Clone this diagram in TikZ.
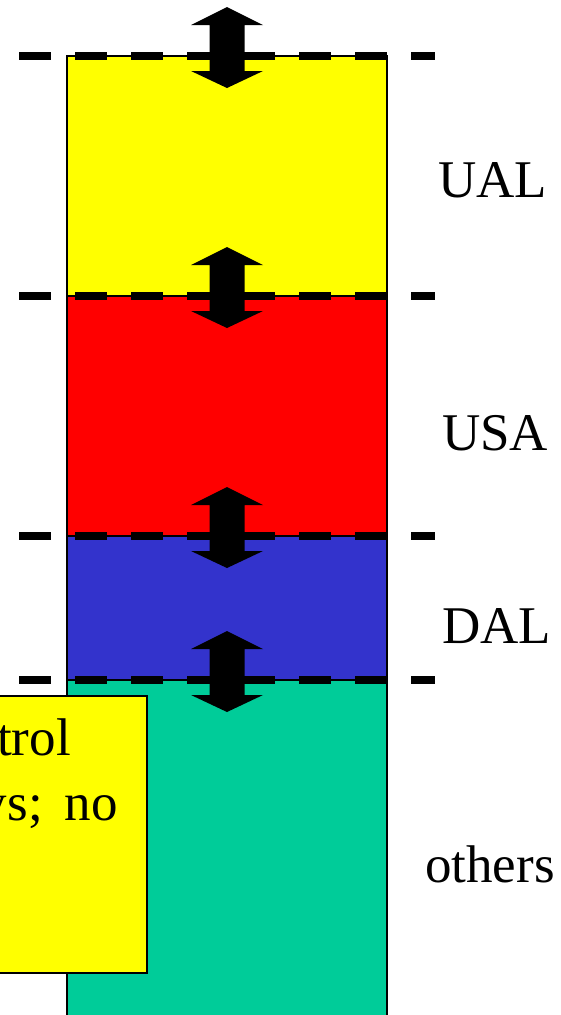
\documentclass[tikz,border=0pt]{standalone}
\usepackage{fontspec}
\setmainfont{Liberation Serif}
\definecolor{bandyellow}{HTML}{FFFF00}
\definecolor{bandred}{HTML}{FF0000}
\definecolor{bandblue}{HTML}{3333CC}
\definecolor{bandgreen}{HTML}{00CC99}
\begin{document}
\begin{tikzpicture}[x=1pt,y=-1pt,
  band/.style={draw=black,line width=1.5pt},
  divider/.style={draw=black,line width=8pt,dash pattern=on 32pt off 24pt},
  dblarrow/.style={fill=black},
  lbl/.style={inner sep=0pt,font=\fontsize{53}{63}\selectfont},
  notebox/.style={fill=bandyellow,draw=black,line width=1.5pt}]
\useasboundingbox (0,0) rectangle (560,1015);
\clip (0,0) rectangle (560,1015);
% bands
\path[band,fill=bandyellow] (67,56) rectangle (387,296);
\path[band,fill=bandred] (67,296) rectangle (387,536);
\path[band,fill=bandblue] (67,536) rectangle (387,680);
\path[band,fill=bandgreen] (67,680) rectangle (387,1030);
% dashed dividers
\foreach \L in {56,296,536,680} {
  \path[divider] (19,\L) -- (435,\L);
}
% double arrows
\foreach \L in {56,296,536,680} {
  \fill[dblarrow] (227,\L-49) -- (263,\L-31) -- (244.5,\L-31) -- (244.5,\L+15)
    -- (263,\L+15) -- (227,\L+32) -- (191,\L+15) -- (209.5,\L+15)
    -- (209.5,\L-31) -- (191,\L-31) -- cycle;
}
% labels
\node[lbl,anchor=base west] (ual) at (438,197) {UAL};
\node[lbl,anchor=base west] (usa) at (442,450) {USA};
\node[lbl,anchor=base west] (dal) at (442,643) {DAL};
\node[lbl,anchor=base west] (oth) at (425,882) {others};
% note box
\path[notebox] (-5,696) rectangle (147,973);
\node[lbl,anchor=base east] (n1) at (71,755) {trol};
\node[lbl,anchor=base east] (n2) at (118,820) {ys;\hspace{22pt}no};
\end{tikzpicture}
\end{document}
